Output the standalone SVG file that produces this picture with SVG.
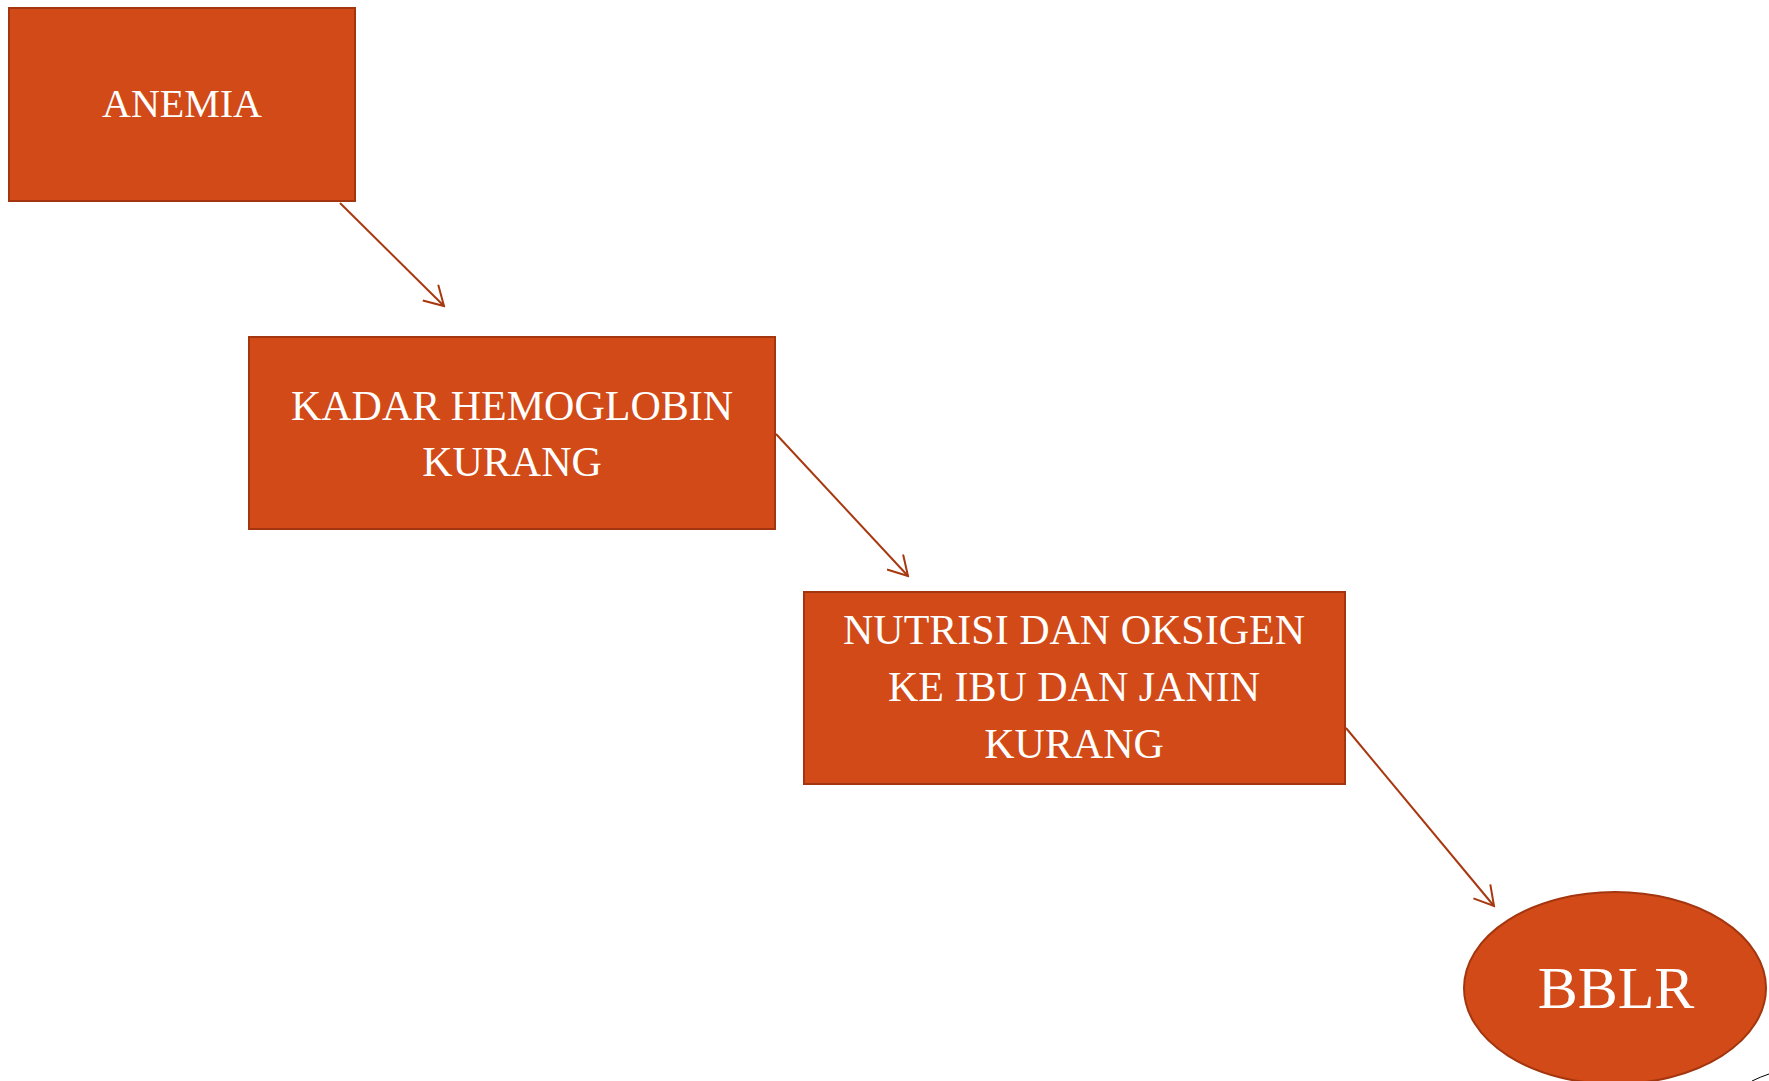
<svg xmlns="http://www.w3.org/2000/svg" width="1769" height="1081" viewBox="0 0 1769 1081">
<style>
.box{fill:#D24A17;stroke:#A3360F;stroke-width:2}
.lbl{fill:#FFFFFF;font-family:"Liberation Serif","DejaVu Serif",serif;text-anchor:middle}
.conn{stroke:#A8380F;stroke-width:2;fill:none}
</style>
<defs>
<marker id="arr" viewBox="0 0 22 24" refX="20" refY="12" markerWidth="22" markerHeight="24" markerUnits="userSpaceOnUse" orient="auto">
<path d="M1,1 L20,12 L1,23" fill="none" stroke="#A8380F" stroke-width="2"/>
</marker>
</defs>
<rect width="1769" height="1081" fill="#FFFFFF"/>
<g id="connectors">
<line class="conn" x1="340" y1="203" x2="444" y2="306" marker-end="url(#arr)"/>
<line class="conn" x1="776" y1="434" x2="908" y2="576" marker-end="url(#arr)"/>
<line class="conn" x1="1346" y1="728" x2="1494" y2="906" marker-end="url(#arr)"/>
</g>
<g id="node-anemia">
<rect class="box" x="9" y="8" width="346" height="193"/>
<text class="lbl" x="182" y="117" font-size="40">ANEMIA</text>
</g>
<g id="node-kadar">
<rect class="box" x="249" y="337" width="526" height="192"/>
<text class="lbl" x="512" y="420" font-size="42">KADAR HEMOGLOBIN</text>
<text class="lbl" x="512" y="476" font-size="42">KURANG</text>
</g>
<g id="node-nutrisi">
<rect class="box" x="804" y="592" width="541" height="192"/>
<text class="lbl" x="1074" y="644" font-size="42">NUTRISI DAN OKSIGEN</text>
<text class="lbl" x="1074" y="701" font-size="42">KE IBU DAN JANIN</text>
<text class="lbl" x="1074" y="758" font-size="42">KURANG</text>
</g>
<g id="node-bblr">
<ellipse class="box" cx="1615" cy="988" rx="151" ry="96"/>
<text class="lbl" x="1616" y="1008" font-size="60">BBLR</text>
</g>
<path d="M1752,1081 Q1760,1077 1769,1074" fill="none" stroke="#000000" stroke-width="1"/>
</svg>
